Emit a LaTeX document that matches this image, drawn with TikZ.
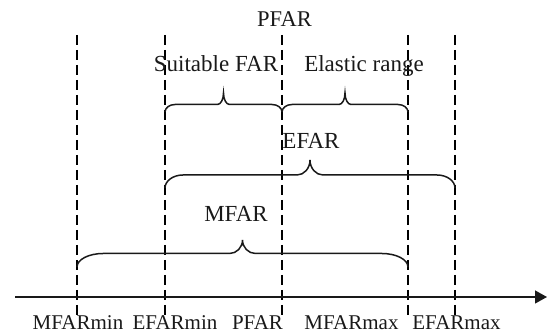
\documentclass[tikz,border=0pt]{standalone}
\usepackage{fontspec}
\setmainfont{Liberation Serif}
\usetikzlibrary{arrows.meta}

% brace drawn from its two feet: #1,#2 = x of the feet, #3 = y of the feet,
% #4 = y of the long straight part, #5 = y of the tip, #6 = corner width, #7 = tip width
\newcommand\farbrace[7]{%
  \draw[bracestyle]
    (#1,#3) .. controls (#1,{#3-0.55*(#3-#4)}) and ({#1+0.45*#6},#4) .. ({#1+#6},#4)
    -- ({(#1+#2)/2-#7},#4)
    .. controls ({(#1+#2)/2-0.45*#7},#4) and ({(#1+#2)/2},{#4-0.45*(#4-#5)}) .. ({(#1+#2)/2},#5)
    .. controls ({(#1+#2)/2},{#4-0.45*(#4-#5)}) and ({(#1+#2)/2+0.45*#7},#4) .. ({(#1+#2)/2+#7},#4)
    -- ({#2-#6},#4)
    .. controls ({#2-0.45*#6},#4) and (#2,{#3-0.55*(#3-#4)}) .. (#2,#3);}

\tikzset{
  guide/.style={line width=1.2pt, dash pattern=on 10.5pt off 4.5pt, black},
  bracestyle/.style={line width=1.5pt, black!90},
  axisline/.style={line width=1.3pt, black!90, -{Triangle[length=12pt,width=13pt]}},
  ticklabel/.style={font=\fontsize{21}{24}\selectfont, inner sep=0pt, anchor=base, text=black!90},
  spanlabel/.style={font=\fontsize{23}{26}\selectfont, inner sep=0pt, anchor=base, text=black!90},
}

\begin{document}
\begin{tikzpicture}[x=1pt, y=-1pt]
\useasboundingbox (0,0) rectangle (547,336);

% vertical guide lines
\foreach \name/\x in {mmin/77, emin/165, pf/282, mmax/408, emax/455} {
  \coordinate (\name-top) at (\x,35);
  \coordinate (\name-bot) at (\x,318);
  \draw[guide] (\name-top) -- (\name-bot);
}

% value axis
\coordinate (axis-start) at (15,297);
\coordinate (axis-end) at (547,297);
\draw[axisline] (axis-start) -- (axis-end);

% braces
\farbrace{165}{282}{112}{104.5}{93}{10}{6}
\farbrace{282}{408}{112}{104.5}{93}{10}{6}
\farbrace{165}{455}{188}{175}{160}{18}{13}
\farbrace{77}{408}{267}{253.5}{240}{26}{13}

% labels of the ranges
\node[spanlabel, font=\fontsize{22.5}{25}\selectfont] (ptop) at (284.5,26.5) {PFAR};
\node[spanlabel] (suit) at (216,72) {Suitable FAR};
\node[spanlabel] (elas) at (364,72) {Elastic range};
\node[spanlabel] (efar) at (311,148.5) {EFAR};
\node[spanlabel] (mfar) at (236,222) {MFAR};

% labels under the axis
\node[ticklabel] (l-mmin) at (78,330) {MFARmin};
\node[ticklabel] (l-emin) at (175,330) {EFARmin};
\node[ticklabel] (l-pf) at (257.5,330) {PFAR};
\node[ticklabel] (l-mmax) at (351.5,330) {MFARmax};
\node[ticklabel] (l-emax) at (456.5,330) {EFARmax};
\end{tikzpicture}
\end{document}
